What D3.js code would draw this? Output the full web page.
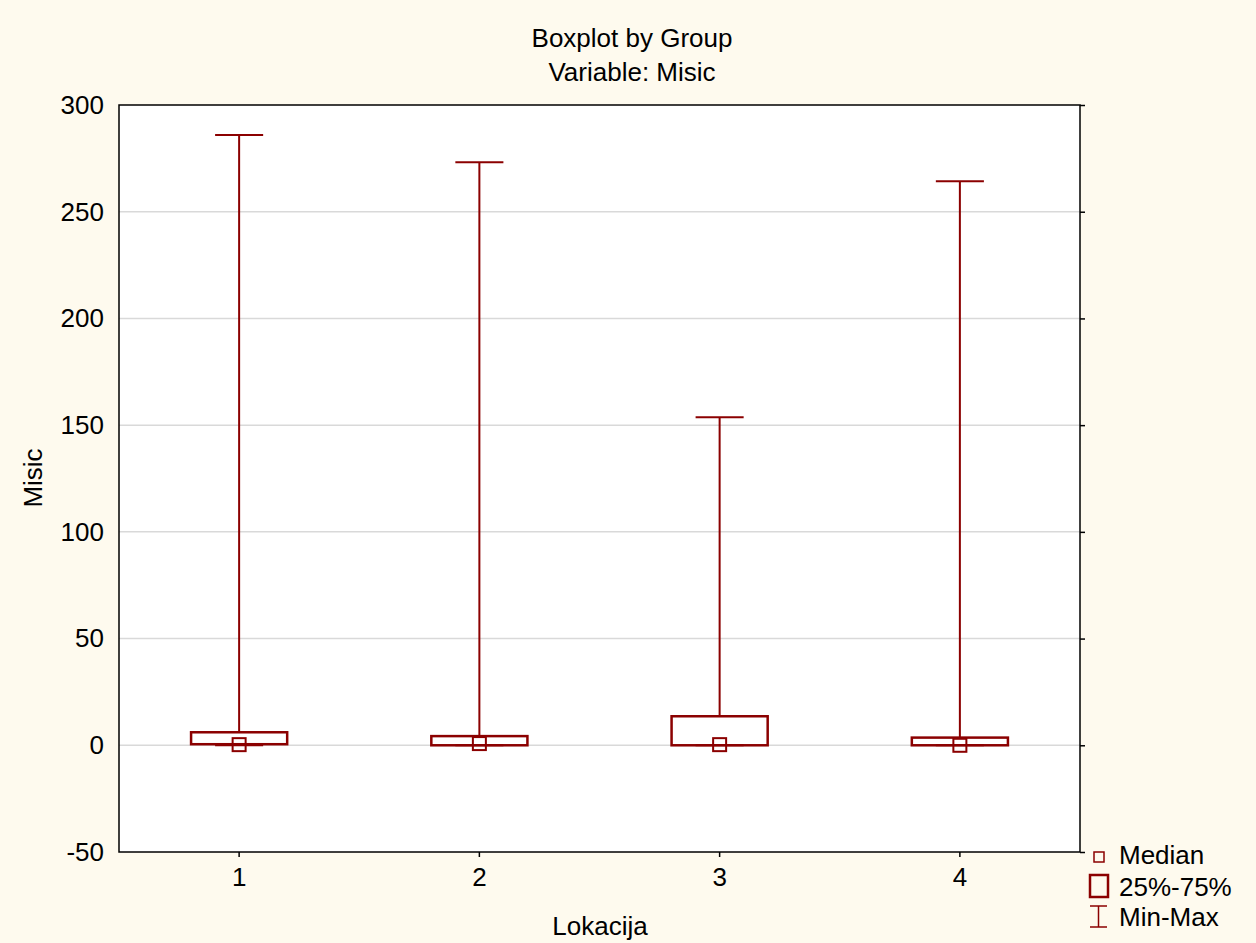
<!DOCTYPE html>
<html><head><meta charset="utf-8">
<script src="https://cdn.jsdelivr.net/npm/d3@7"></script>
<style>body{margin:0;background:#fefaee;}svg{display:block;}</style>
</head><body>
<svg id="c" width="1256" height="943"></svg>
<script>
const categories = ["1","2","3","4"];
const minVals = [0, 0, 0, 0];
const q1Vals = [0.5, 0, 0, 0];
const medianVals = [0.3, 0.8, 0.3, 0];
const q3Vals = [6.1, 4.3, 13.6, 3.6];
const maxVals = [286, 273.2, 153.7, 264.3];
const yTicks = [-50, 0, 50, 100, 150, 200, 250, 300];

const col = "#8b0000";
const svg = d3.select("#c");
const L = 119, R = 1080, T = 105, B = 852;
const FS = 26;
svg.append("rect").attr("width",1256).attr("height",943).attr("fill","#fefaee");
svg.append("rect").attr("x",L).attr("y",T).attr("width",R-L).attr("height",B-T).attr("fill","#fff");

const x = d3.scaleBand().domain(categories).range([L,R]);
const y = d3.scaleLinear().domain([-50,300]).range([B,T]);
const font = "Arial, 'Liberation Sans', sans-serif";

// grid
svg.append("g").selectAll("line").data(yTicks.filter(v=>v>-50 && v<300)).join("line")
  .attr("x1",L).attr("x2",R).attr("y1",d=>y(d)).attr("y2",d=>y(d))
  .attr("stroke","#d9d9d9").attr("stroke-width",1.5);

// axes
const yl = svg.append("g").attr("transform",`translate(${L},0)`).call(d3.axisLeft(y).tickValues(yTicks).tickSize(0).tickPadding(15).tickFormat(d3.format("d")));
const yr = svg.append("g").attr("transform",`translate(${R},0)`).call(d3.axisRight(y).tickValues(yTicks).tickSize(5).tickFormat(""));
const xb = svg.append("g").attr("transform",`translate(0,${B})`).call(d3.axisBottom(x).tickSize(5).tickPadding(10.5));
[yl,yr,xb].forEach(g=>{g.select(".domain").remove();g.selectAll("line").attr("stroke","#000").attr("stroke-width",1.5);
  g.selectAll("text").attr("font-family",font).attr("font-size",FS).attr("fill","#000");});
yl.selectAll("text").text(d=>d<0?"-"+Math.abs(d):d);
svg.append("rect").attr("x",L).attr("y",T).attr("width",R-L).attr("height",B-T).attr("fill","none").attr("stroke","#000").attr("stroke-width",1.5);

// boxes
const data = categories.map((c,i)=>({c,min:minVals[i],q1:q1Vals[i],med:medianVals[i],q3:q3Vals[i],max:maxVals[i]}));
const bw = x.bandwidth()*0.4, cw = x.bandwidth()*0.2, ms = 13;
const g = svg.append("g");
data.forEach(d=>{
  const cx = x(d.c)+x.bandwidth()/2;
  g.append("line").attr("x1",cx).attr("x2",cx).attr("y1",y(d.max)).attr("y2",y(d.q3)).attr("stroke",col).attr("stroke-width",2);
  g.append("line").attr("x1",cx-cw/2).attr("x2",cx+cw/2).attr("y1",y(d.max)).attr("y2",y(d.max)).attr("stroke",col).attr("stroke-width",2);
  g.append("line").attr("x1",cx-cw/2).attr("x2",cx+cw/2).attr("y1",y(d.min)).attr("y2",y(d.min)).attr("stroke",col).attr("stroke-width",2);
  g.append("rect").attr("x",cx-bw/2).attr("y",y(d.q3)).attr("width",bw).attr("height",Math.max(0.1,y(d.q1)-y(d.q3)))
    .attr("fill","none").attr("stroke",col).attr("stroke-width",2.5);
  g.append("rect").attr("x",cx-ms/2).attr("y",y(d.med)-ms/2).attr("width",ms).attr("height",ms)
    .attr("fill","none").attr("stroke",col).attr("stroke-width",2);
});

// titles
const txt = (s,xx,yy,opt={})=>svg.append("text").text(s).attr("x",xx).attr("y",yy).attr("font-family",font)
  .attr("font-size",opt.size||FS).attr("text-anchor",opt.anchor||"middle").attr("fill","#000");
txt("Boxplot by Group",632,47);
txt("Variable: Misic",632,81);
txt("Lokacija",600,935);
svg.append("text").text("Misic").attr("font-family",font).attr("font-size",FS).attr("text-anchor","middle")
  .attr("transform","translate(42,478) rotate(-90)");

// legend
svg.append("rect").attr("x",1094).attr("y",852).attr("width",10).attr("height",10).attr("fill","none").attr("stroke",col).attr("stroke-width",1.5);
txt("Median",1119,864,{anchor:"start"});
svg.append("rect").attr("x",1090).attr("y",875).attr("width",18).attr("height",22).attr("fill","none").attr("stroke",col).attr("stroke-width",2.5);
txt("25%-75%",1119,896,{anchor:"start"});
const lg = svg.append("g").attr("stroke",col).attr("stroke-width",1.5);
lg.append("line").attr("x1",1090).attr("x2",1107).attr("y1",906).attr("y2",906);
lg.append("line").attr("x1",1098.5).attr("x2",1098.5).attr("y1",906).attr("y2",927);
lg.append("line").attr("x1",1090).attr("x2",1107).attr("y1",927).attr("y2",927);
txt("Min-Max",1119,926,{anchor:"start"});
</script>
</body></html>
